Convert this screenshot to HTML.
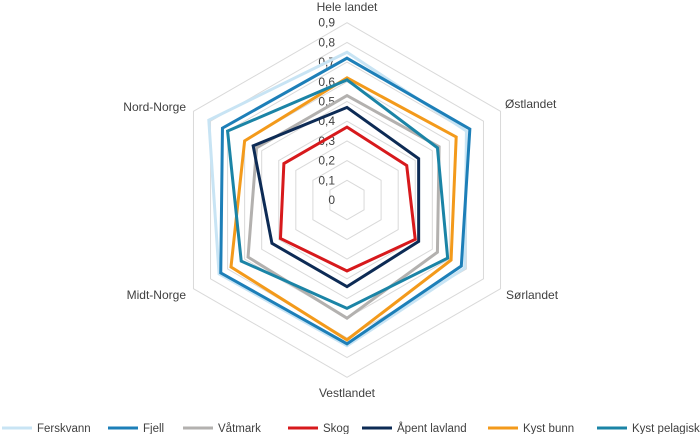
<!DOCTYPE html>
<html><head><meta charset="utf-8"><style>
body{margin:0;background:#fff;width:700px;height:434px;overflow:hidden;font-family:"Liberation Sans",sans-serif}
text{font-family:"Liberation Sans",sans-serif;fill:#404040}
</style></head><body>
<svg id="chart" width="700" height="434" viewBox="0 0 700 434"></svg>
<script>
const axes = ["Hele landet","Østlandet","Sørlandet","Vestlandet","Midt-Norge","Nord-Norge"];
const ticks = ["0","0,1","0,2","0,3","0,4","0,5","0,6","0,7","0,8","0,9"];
const seriesNames = ["Ferskvann","Fjell","Våtmark","Skog","Åpent lavland","Kyst bunn","Kyst pelagisk"];
const ferskvann = [0.75,0.70,0.69,0.74,0.75,0.81];
const fjell = [0.72,0.72,0.67,0.73,0.74,0.73];
const vatmark = [0.53,0.54,0.53,0.60,0.58,0.53];
const skog = [0.37,0.35,0.40,0.36,0.39,0.37];
const apent = [0.47,0.42,0.42,0.44,0.44,0.55];
const kystBunn = [0.62,0.64,0.61,0.71,0.68,0.60];
const kystPelagisk = [0.61,0.53,0.59,0.55,0.62,0.70];
const seriesData = [ferskvann,fjell,vatmark,skog,apent,kystBunn,kystPelagisk];
const colors = ["#c8e4f4","#1d7fb8","#b3b1af","#d7191c","#0d2b55","#f39a1b","#1b84a6"];
const NS="http://www.w3.org/2000/svg", svg=document.getElementById('chart');
const cx=347, cy=200, R=177.3, maxV=0.9;
function pt(i,v){const a=-Math.PI/2+i*Math.PI/3;const r=v/maxV*R;return [cx+r*Math.cos(a),cy+r*Math.sin(a)];}
function mk(t,attrs){const e=document.createElementNS(NS,t);for(const k in attrs)e.setAttribute(k,attrs[k]);svg.appendChild(e);return e;}
for(let k=1;k<ticks.length;k++){
  const v=k*0.1;
  const g=mk('polygon',{points:axes.map((_,i)=>pt(i,v).join(',')).join(' '),fill:'none',stroke:'#d9d9d9','stroke-width':1});
  
  
}
ticks.forEach((t,k)=>{
  const e=mk('text',{x:cx-12,y:cy-k*0.1/maxV*R+4,'text-anchor':'end','font-size':12});
  e.textContent=t;
  
  
});
seriesData.forEach((d,s)=>{
  const p=mk('polygon',{points:d.map((v,i)=>pt(i,v).join(',')).join(' '),fill:'none',stroke:colors[s],'stroke-width':3,'stroke-linejoin':'miter'});
  
  
});
const lab=[[347,11,'middle'],[505,108,'start'],[506,299,'start'],[347,397,'middle'],[186,299,'end'],[186,111,'end']];
axes.forEach((a,i)=>{
  const e=mk('text',{x:lab[i][0],y:lab[i][1],'text-anchor':lab[i][2],'font-size':12});
  e.textContent=a;
  
  
});
const lx=[2,108,183,288,362,488,597];
seriesNames.forEach((n,s)=>{
  const l=mk('line',{x1:lx[s],x2:lx[s]+30,y1:428,y2:428,stroke:colors[s],'stroke-width':3});
  
  
  const t=mk('text',{x:lx[s]+35,y:432,'font-size':11.5});
  t.textContent=n;
  
  
});
</script>
</body></html>
